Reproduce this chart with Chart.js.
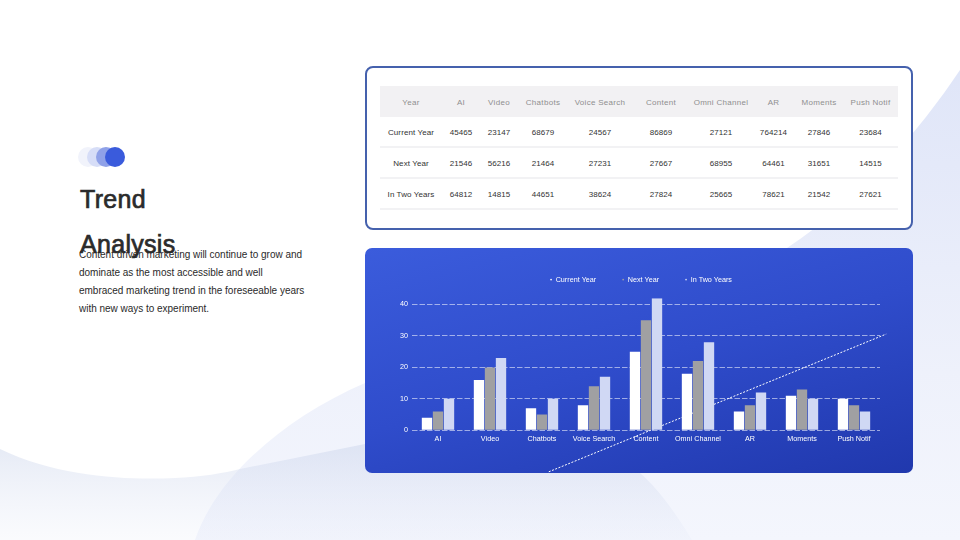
<!DOCTYPE html>
<html><head><meta charset="utf-8">
<script src="https://cdn.jsdelivr.net/npm/chart.js@4"></script>
<style>
html,body{margin:0;padding:0;width:960px;height:540px;overflow:hidden;background:#fff;font-family:"Liberation Sans",Arial,sans-serif}
#bg{position:absolute;left:0;top:0}
#dots{position:absolute;left:0;top:0}
h1{position:absolute;left:80px;top:177px;margin:0;font-size:25px;font-weight:400;line-height:45px;color:#2b2b2b;-webkit-text-stroke:.7px #2b2b2b;letter-spacing:.3px}
p{position:absolute;left:79px;top:246px;margin:0;white-space:nowrap;font-size:10px;line-height:18px;color:#2a2a2a;letter-spacing:-.02px}
#tcard{position:absolute;left:365px;top:66px;width:544px;height:160px;border:2px solid #4561ad;border-radius:8px;background:#fff}
#tbl{position:absolute;left:380px;top:86px;width:518px;border-collapse:separate;border-spacing:0;table-layout:fixed;font-size:8px;color:#333;text-align:center}
#tbl th{box-sizing:border-box;height:31px;padding:1px 0 0;background:#f2f1f3;color:#8f8f8f;font-weight:400;letter-spacing:.3px}
#tbl td{box-sizing:border-box;height:31px;padding:2px 0 0;border-bottom:2px solid #f2f2f4;letter-spacing:.1px}
#ccard{position:absolute;left:365px;top:248px;width:548px;height:225px;border-radius:7px;background:linear-gradient(165deg,#3b5cdc 0%,#2f4ccb 50%,#2038ad 100%);overflow:hidden}
#c{position:absolute;left:0;top:0}
</style></head><body>
<svg id="bg" width="960" height="540">
<defs>
<linearGradient id="g1" x1="0" y1="60" x2="0" y2="540" gradientUnits="userSpaceOnUse"><stop offset="0" stop-color="#dfe5f8"/><stop offset=".65" stop-color="#eef1fb"/><stop offset="1" stop-color="#f4f6fd"/></linearGradient>
<linearGradient id="g2" x1="0" y1="440" x2="0" y2="540" gradientUnits="userSpaceOnUse"><stop offset="0" stop-color="#c9d3ea" stop-opacity=".5"/><stop offset="1" stop-color="#dfe5f5" stop-opacity=".15"/></linearGradient>
</defs>
<path d="M195,540 C215,480 280,420 365,383 L787,248 C860,200 920,130 960,70 L960,540 Z" fill="url(#g1)"/>
<path d="M0,449 C60,478 130,480 175,478 C200,477 225,473 240,469 L365,444 L640,473 C660,490 680,520 692,540 L0,540 Z" fill="url(#g2)"/>
</svg>
<svg id="dots" width="200" height="200">
<circle cx="88" cy="157" r="10" fill="#f1f3fb"/>
<circle cx="97" cy="157" r="10" fill="#d6ddf7"/>
<circle cx="106" cy="157" r="10" fill="#8fa1e8"/>
<circle cx="115" cy="157" r="10" fill="#3a5bdc"/>
</svg>
<h1>Trend<br>Analysis</h1>
<p>Content driven marketing will continue to grow and<br>dominate as the most accessible and well<br>embraced marketing trend in the foreseeable years<br>with new ways to experiment.</p>
<div id="tcard"></div>
<table id="tbl"><colgroup id="cols"></colgroup><thead><tr id="hd"></tr></thead><tbody id="bd"></tbody></table>
<div id="ccard"><canvas id="c" width="548" height="225"></canvas></div>
<script>
const tableHeaders = ["Year","AI","Video","Chatbots","Voice Search","Content","Omni Channel","AR","Moments","Push Notif"];
const tableRowCurrent = ["Current Year",45465,23147,68679,24567,86869,27121,764214,27846,23684];
const tableRowNext = ["Next Year",21546,56216,21464,27231,27667,68955,64461,31651,14515];
const tableRowTwo = ["In Two Years",64812,14815,44651,38624,27824,25665,78621,21542,27621];
const categories = ["AI","Video","Chatbots","Voice Search","Content","Omni Channel","AR","Moments","Push Notif"];
const currentYear = [4,16,7,8,25,18,6,11,10];
const nextYear = [6,20,5,14,35,22,8,13,8];
const inTwoYears = [10,23,10,17,42,28,12,10,6];
const yTicks = [0,10,20,30,40];
const trendX = [2.13,8.62];
const trendY = [-13.2,30.6];

const colWidths = [62,38,38,50,64,58,62,43,48,55];
document.getElementById('cols').innerHTML = colWidths.map(w=>`<col style="width:${w}px">`).join('');
document.getElementById('hd').innerHTML = tableHeaders.map(h=>`<th>${h}</th>`).join('');
document.getElementById('bd').innerHTML = [tableRowCurrent,tableRowNext,tableRowTwo].map(r=>'<tr>'+r.map(v=>`<td>${v}</td>`).join('')+'</tr>').join('');

const font = {family:'"Liberation Sans",Arial,sans-serif',size:7.2};
const barOpts = {type:'bar',borderWidth:0,categoryPercentage:.635,barPercentage:.94,order:1};
const legendShift = {id:'legendShift',afterLayout(chart){chart.legend.left+=37;chart.legend.top-=5;}};
new Chart(document.getElementById('c'),{
  plugins:[legendShift],
  data:{labels:categories,datasets:[
    {...barOpts,label:'Current Year',data:currentYear,backgroundColor:'#ffffff'},
    {...barOpts,label:'Next Year',data:nextYear,backgroundColor:'#a0a0a2'},
    {...barOpts,label:'In Two Years',data:inTwoYears,backgroundColor:'#d0d8f4'},
    {type:'line',label:'trend',parsing:false,normalized:true,data:trendX.map((x,i)=>({x,y:trendY[i]})),borderColor:'#ffffff',borderWidth:1,borderDash:[2,1.5],pointRadius:0,fill:false,clip:false,order:2}
  ]},
  options:{
    responsive:false,animation:false,
    layout:{padding:{left:0,right:33,top:7,bottom:0}},
    plugins:{
      tooltip:{enabled:false},
      legend:{position:'top',
        labels:{font,color:'#ffffff',usePointStyle:true,pointStyle:'circle',boxWidth:2,boxHeight:1.2,padding:26,
          filter:(it)=>it.text!=='trend'}}
    },
    scales:{
      x:{grid:{display:false,drawTicks:false,tickLength:0},border:{display:false},
        ticks:{color:'#ffffff',font,padding:4,maxRotation:0,autoSkip:false},
        afterFit(s){s.height=42.7;}},
      y:{min:0,max:42,border:{display:false,dash:[5.5,2]},
        grid:{color:'rgba(255,255,255,.55)',lineWidth:1,drawTicks:false,tickLength:0},
        ticks:{color:'#ffffff',font,padding:4},
        afterBuildTicks(s){s.ticks=yTicks.map(value=>({value}));},
        afterFit(s){s.width=47;}}
    }
  }
});
</script>
</body></html>
